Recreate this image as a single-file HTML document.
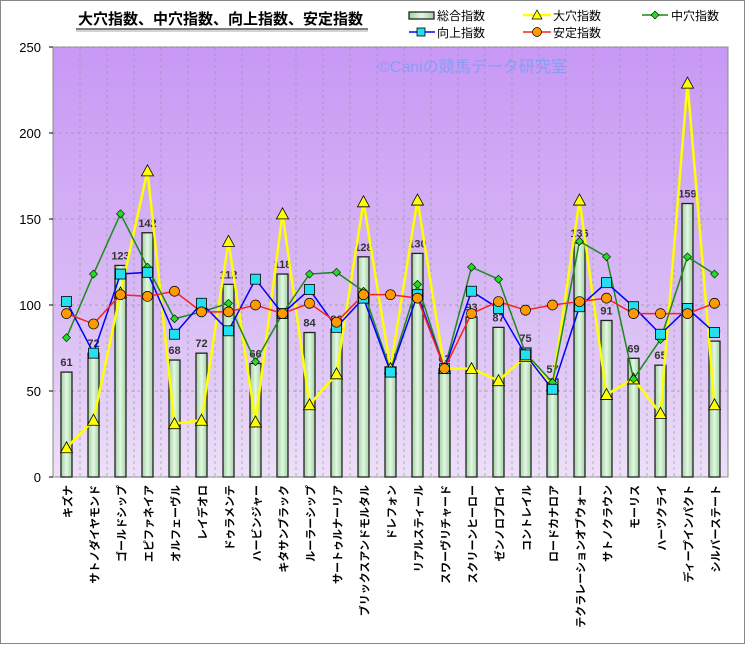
<!DOCTYPE html>
<html><head><meta charset="utf-8">
<style>
body{margin:0;background:#fff;width:745px;height:644px;overflow:hidden;font-family:"Liberation Sans","Noto Sans CJK JP",sans-serif}
</style></head><body>
<svg id="s" width="745" height="644" xmlns="http://www.w3.org/2000/svg" font-family="Liberation Sans, Noto Sans CJK JP, sans-serif">
<defs>
<linearGradient id="bg" x1="0" y1="0" x2="0" y2="1">
<stop offset="0" stop-color="#c898f5"/><stop offset="0.6" stop-color="#d9bbf5"/><stop offset="1" stop-color="#ede0f8"/>
</linearGradient>
<linearGradient id="bar" x1="0" y1="0" x2="1" y2="0">
<stop offset="0" stop-color="#9fd39f"/><stop offset="0.5" stop-color="#e4f7e4"/><stop offset="1" stop-color="#9fd39f"/>
</linearGradient>
</defs>
<rect x="0.5" y="0.5" width="744" height="643" fill="#fff" stroke="#888"/>
<text x="78" y="24" font-size="15" font-weight="bold" fill="#000">大穴指数、中穴指数、向上指数、安定指数</text>
<line x1="76" y1="29" x2="368" y2="29" stroke="#000" stroke-width="1"/>
<line x1="76" y1="31" x2="368" y2="31" stroke="#aaa" stroke-width="1"/>
<g id="plot"></g>
<g id="leg" font-size="12" fill="#000"></g>
</svg>
<script>
const L=53,R=728,T=47,B=477,N=25,W=(R-L)/N;
const y=v=>B-v*(B-T)/250;
const names=["キズナ","サトノダイヤモンド","ゴールドシップ","エピファネイア","オルフェーヴル","レイデオロ","ドゥラメンテ","ハービンジャー","キタサンブラック","ルーラーシップ","サートゥルナーリア","ブリックスアンドモルタル","ドレフォン","リアルスティール","スワーヴリチャード","スクリーンヒーロー","ゼンノロブロイ","コントレイル","ロードカナロア","テクラレーションオブウォー","サトノクラウン","モーリス","ハーツクライ","ディープインパクト","シルバーステート"];
const tot=[61,72,123,142,68,72,112,66,118,84,86,128,64,130,63,93,87,75,57,136,91,69,65,159,79];
const dai=[17,33,107,178,31,33,137,32,153,42,60,160,63,161,63,63,56,70,53,161,48,57,37,229,42];
const chu=[81,118,153,122,92,96,101,67,95,118,119,108,62,112,63,122,115,72,55,137,128,57,80,128,118];
const kou=[102,72,118,119,83,101,85,115,95,109,87,104,61,106,63,108,98,71,51,99,113,99,83,98,84];
const an=[95,89,106,105,108,96,96,100,95,101,90,106,106,104,63,95,102,97,100,102,104,95,95,95,101];
let h=`<rect x="${L}" y="${T}" width="${R-L}" height="${B-T}" fill="url(#bg)" stroke="#888"/>`;
for(let i=1;i<N;i++){let x=L+i*W;h+=`<line x1="${x}" y1="${T}" x2="${x}" y2="${B}" stroke="#999" stroke-dasharray="3,3" stroke-width="0.7"/>`;}
for(let v=0;v<=250;v+=50){h+=`<line x1="${L}" y1="${y(v)}" x2="${R}" y2="${y(v)}" stroke="#999" stroke-dasharray="3,3" stroke-width="0.7"/>`;h+=`<text x="${L-12}" y="${y(v)+5}" font-size="13" text-anchor="end">${v}</text>`;h+=`<line x1="${L-4}" y1="${y(v)}" x2="${L}" y2="${y(v)}" stroke="#000"/>`;}
const cx=i=>L+W*(i+0.5);
h+=`<text x="378" y="72" font-size="16" fill="#7f9ef5" opacity="0.9">©Caniの競馬データ研究室</text>`;
for(let i=0;i<N;i++){h+=`<rect x="${cx(i)-5.5}" y="${y(tot[i])}" width="11" height="${B-y(tot[i])}" fill="url(#bar)" stroke="#222" stroke-width="1.3"/>`;
h+=`<text x="${cx(i)}" y="${y(tot[i])-6}" font-size="11" font-weight="bold" fill="#333" text-anchor="middle">${tot[i]}</text>`;
h+=`<text transform="translate(${cx(i)+5},485) rotate(-90)" font-size="11" font-weight="bold" text-anchor="end">${names[i]}</text>`;}
const line=(d,c,w)=>`<polyline fill="none" stroke="${c}" stroke-width="${w}" points="${d.map((v,i)=>cx(i)+','+y(v)).join(' ')}"/>`;
h+=line(dai,"#ffff00",2.5)+line(chu,"#1a8a1a",1.5)+line(kou,"#0000ff",1.5)+line(an,"#ff2020",1.5);
dai.forEach((v,i)=>{let X=cx(i),Y=y(v);h+=`<polygon points="${X},${Y-6} ${X-6},${Y+5} ${X+6},${Y+5}" fill="#ffff00" stroke="#000" stroke-width="0.8"/>`});
chu.forEach((v,i)=>{let X=cx(i),Y=y(v);h+=`<polygon points="${X},${Y-4} ${X+4},${Y} ${X},${Y+4} ${X-4},${Y}" fill="#22dd22" stroke="#000" stroke-width="0.6"/>`});
kou.forEach((v,i)=>{h+=`<rect x="${cx(i)-5}" y="${y(v)-5}" width="10" height="10" fill="#22e0f0" stroke="#000" stroke-width="0.8"/>`});
an.forEach((v,i)=>{h+=`<circle cx="${cx(i)}" cy="${y(v)}" r="5" fill="#ff9900" stroke="#000" stroke-width="0.7"/>`});
document.getElementById('plot').innerHTML=h;
let g='';
g+=`<rect x="409" y="12" width="25" height="7" fill="url(#bar)" stroke="#222" stroke-width="1.3"/><text x="437" y="20">総合指数</text>`;
g+=`<line x1="523" y1="15" x2="551" y2="15" stroke="#ffff00" stroke-width="2.5"/><polygon points="537,10 532,19 542,19" fill="#ffff00" stroke="#000" stroke-width="0.7"/><text x="553" y="20">大穴指数</text>`;
g+=`<line x1="642" y1="15" x2="668" y2="15" stroke="#1a8a1a" stroke-width="1.5"/><polygon points="655,11 659,15 655,19 651,15" fill="#22dd22" stroke="#000" stroke-width="0.6"/><text x="671" y="20">中穴指数</text>`;
g+=`<line x1="409" y1="32" x2="435" y2="32" stroke="#0000ff" stroke-width="1.5"/><rect x="417" y="28" width="8" height="8" fill="#22e0f0" stroke="#000" stroke-width="0.8"/><text x="437" y="37">向上指数</text>`;
g+=`<line x1="523" y1="32" x2="551" y2="32" stroke="#ff2020" stroke-width="1.5"/><circle cx="537" cy="32" r="4.5" fill="#ff9900" stroke="#000" stroke-width="0.7"/><text x="553" y="37">安定指数</text>`;
document.getElementById('leg').innerHTML=g;
</script>
</body></html>
